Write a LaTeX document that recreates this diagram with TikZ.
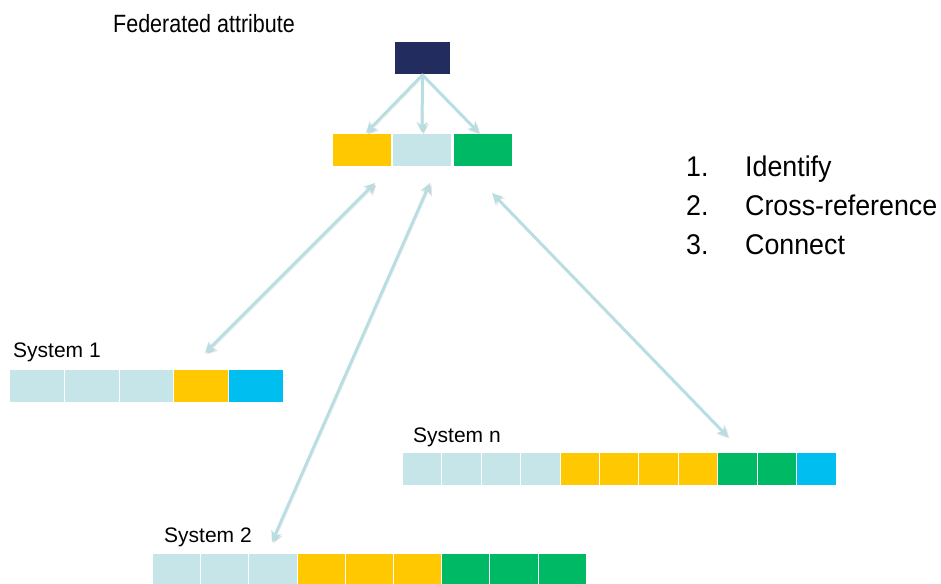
\documentclass[tikz,border=0pt]{standalone}
\usepackage{fontspec}
\setmainfont{Liberation Sans}
\newfontfamily\narrowhead[FakeStretch=0.86]{Liberation Sans}
\newfontfamily\narrowlist[FakeStretch=0.94]{Liberation Sans}
\usetikzlibrary{arrows.meta,calc}
\definecolor{navy}{HTML}{222C5E}
\definecolor{ylw}{HTML}{FFC800}
\definecolor{pale}{HTML}{C5E5E8}
\definecolor{grn}{HTML}{00B964}
\definecolor{sky}{HTML}{00BFF0}
\definecolor{link}{HTML}{B9DEE2}
\tikzset{
	cell/.style={draw=white, line width=1pt, inner sep=0pt, anchor=north west},
	lbl/.style={font=\fontsize{21}{25}\selectfont, anchor=base west, inner sep=0pt}
}

\begin{document}
\begin{tikzpicture}[x=1pt, y=-1pt, line cap=round, line join=round]
    \useasboundingbox (0,0) rectangle (941,583);

    % federated attribute and its three parts
    \node[lbl, font=\narrowhead\fontsize{25}{30}\selectfont] (fedlbl) at (113,32.5) {Federated attribute};
    \node[cell, fill=navy, minimum width=56pt, minimum height=33pt] (attr) at (394,41) {};
    \node[cell, fill=ylw,  minimum width=59pt, minimum height=33pt] (fy) at (332,133) {};
    \node[cell, fill=pale, minimum width=59pt, minimum height=33pt] (fb) at (392,133) {};
    \node[cell, fill=grn,  minimum width=59pt, minimum height=33pt] (fg) at (453,133) {};

    \tikzset{arr/.style={-{Stealth[length=11pt,width=11pt]}, draw=link, line width=3pt,
        preaction={draw=black, opacity=0.10, transform canvas={shift={(1.5pt,-1.5pt)}}}}}

    \draw[arr] (attr.south) -- ([xshift=4pt]fy.north);
    \draw[arr] (attr.south) -- (fb.north);
    \draw[arr] (attr.south) -- ([xshift=-4pt]fg.north);

    % systems
    \node[lbl] (s1lbl) at (13,357) {System 1};
    \foreach \col [count=\i] in {pale,pale,pale,ylw,sky}
      \node[cell, fill=\col, minimum width=55pt, minimum height=33pt] (s1c\i) at ({9+54.8*(\i-1)},369) {};

    \node[lbl] (snlbl) at (413,442) {System n};
    \foreach \col [count=\i] in {pale,pale,pale,pale,ylw,ylw,ylw,ylw,grn,grn,sky}
      \node[cell, fill=\col, minimum width=39.5pt, minimum height=33pt] (snc\i) at ({402+39.4*(\i-1)},452) {};

    \node[lbl] (s2lbl) at (164,542) {System 2};
    \foreach \col [count=\i] in {pale,pale,pale,ylw,ylw,ylw,grn,grn,grn}
      \node[cell, fill=\col, minimum width=48.3pt, minimum height=32pt] (s2c\i) at ({152+48.2*(\i-1)},553) {};

    % cross-references
    \coordinate (t1) at (375,183);
    \coordinate (b1) at (205,353);
    \coordinate (t2) at (430,183);
    \coordinate (b2) at (272,542);
    \coordinate (t3) at (492,193);
    \coordinate (b3) at (728,437);

    \draw[arr, {Stealth[length=11pt,width=11pt]}-{Stealth[length=11pt,width=11pt]}] (t1) -- (b1);
    \draw[arr, {Stealth[length=11pt,width=11pt]}-{Stealth[length=11pt,width=11pt]}] (t2) -- (b2);
    \draw[arr, {Stealth[length=11pt,width=11pt]}-{Stealth[length=11pt,width=11pt]}] (t3) -- (b3);

    % steps
    \tikzset{step lbl/.style={font=\narrowlist\fontsize{28.5}{34}\selectfont, anchor=base west, inner sep=0pt}}
    \node[step lbl] (n1) at (686,176) {1.};
    \node[step lbl] (w1) at (745,176) {Identify};
    \node[step lbl] (n2) at (686,215) {2.};
    \node[step lbl] (w2) at (745,215) {Cross-reference};
    \node[step lbl] (n3) at (686,254) {3.};
    \node[step lbl] (w3) at (745,254) {Connect};
\end{tikzpicture}
\end{document}
